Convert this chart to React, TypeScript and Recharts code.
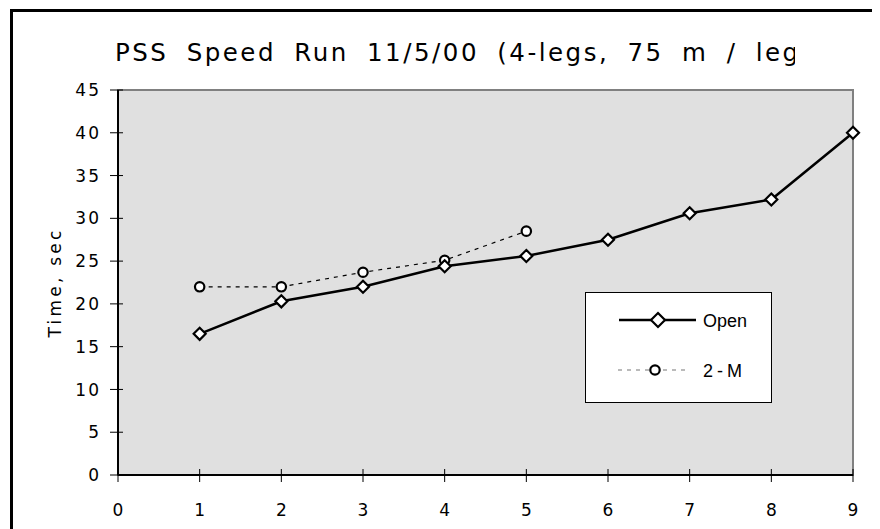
import React from 'react';
import {
  LineChart,
  Line,
  XAxis,
  YAxis,
  ReferenceArea,
  Legend,
} from 'recharts';

const xValues = [1, 2, 3, 4, 5, 6, 7, 8, 9];
const openTimes = [16.5, 20.3, 22.0, 24.4, 25.6, 27.5, 30.6, 32.2, 40.0];
const twoMTimes: (number | null)[] = [22.0, 22.0, 23.7, 25.1, 28.5, null, null, null, null];
const xTicks = [0, 1, 2, 3, 4, 5, 6, 7, 8, 9];
const yTicks = [0, 5, 10, 15, 20, 25, 30, 35, 40, 45];
const titleText = 'PSS Speed Run 11/5/00 (4-legs, 75 m / leg';
const yLabel = 'Time, sec';
const seriesNames = ['Open', '2-M'];

const data = xValues.map((x, i) => ({ x, open: openTimes[i], twoM: twoMTimes[i] }));

const FONT = '"DejaVu Sans", Verdana, sans-serif';
const LEGEND_FONT = '"Liberation Sans", Arial, sans-serif';

const Y_TICK_SIZE = 8;
const Y_TICK_MARGIN = 9;
const X_TICK_SIZE = 7;
const X_TICK_MARGIN = 22;

const YTick = (props: any) => {
  const { x, y, payload } = props;
  const axisX = x + Y_TICK_SIZE + Y_TICK_MARGIN;
  return (
    <g>
      <line x1={axisX - Y_TICK_SIZE} x2={axisX + 5} y1={y} y2={y} stroke="#000" strokeWidth={1} />
      <text
        x={x}
        y={y}
        dy="0.36em"
        textAnchor="end"
        fontFamily={FONT}
        fontSize={17}
        letterSpacing={2}
        fill="#000"
      >
        {payload.value}
      </text>
    </g>
  );
};

const XTick = (props: any) => {
  const { x, y, payload } = props;
  const axisY = y - X_TICK_SIZE - X_TICK_MARGIN;
  return (
    <g>
      <line x1={x} x2={x} y1={axisY - 6} y2={axisY + X_TICK_SIZE} stroke="#000" strokeWidth={1} />
      <text
        x={x}
        y={y}
        dy="0.71em"
        textAnchor="middle"
        fontFamily={FONT}
        fontSize={17}
        fill="#000"
      >
        {payload.value}
      </text>
    </g>
  );
};

const Diamond = (props: any) => {
  const { cx, cy, index } = props;
  if (cx == null || cy == null) return <g key={`d-${index}`} />;
  const s = 6;
  return (
    <path
      key={`d-${index}`}
      d={`M${cx},${cy - s} L${cx + s},${cy} L${cx},${cy + s} L${cx - s},${cy} Z`}
      fill="#fff"
      stroke="#000"
      strokeWidth={2.2}
    />
  );
};

const Ring = (props: any) => {
  const { cx, cy, index } = props;
  if (cx == null || cy == null) return <g key={`c-${index}`} />;
  return <circle key={`c-${index}`} cx={cx} cy={cy} r={4.7} fill="#fff" stroke="#000" strokeWidth={2.2} />;
};

const LegendBox = () => (
  <svg width={188} height={112} style={{ display: 'block' }}>
    <rect x={0.5} y={0.5} width={186} height={110} fill="#fff" stroke="#000" strokeWidth={1} />
    <line x1={34} y1={28} x2={111} y2={28} stroke="#000" strokeWidth={2.5} />
    <path d="M73,21 L80,28 L73,35 L66,28 Z" fill="#fff" stroke="#000" strokeWidth={2.2} />
    <text x={118} y={34.5} fontFamily={LEGEND_FONT} fontSize={18} fill="#000">{seriesNames[0]}</text>
    <line x1={33} y1={78} x2={104} y2={78} stroke="#777" strokeWidth={1.2} strokeDasharray="4 5" />
    <circle cx={70} cy={78} r={4.7} fill="#fff" stroke="#000" strokeWidth={2.2} />
    <text x={118} y={84.5} fontFamily={LEGEND_FONT} fontSize={18} fill="#000" letterSpacing={4}>{seriesNames[1]}</text>
  </svg>
);

export default function App() {
  return (
    <div style={{ position: 'relative', width: 872, height: 521, overflow: 'hidden', background: '#fff' }}>
      <div
        style={{
          position: 'absolute',
          left: 2,
          top: 1,
          width: 950,
          height: 650,
          border: '3px solid #000',
          boxSizing: 'border-box',
        }}
      />
      <svg
        width={872}
        height={80}
        style={{ position: 'absolute', left: 0, top: 0, pointerEvents: 'none' }}
      >
        <defs>
          <clipPath id="titleClip">
            <rect x={0} y={0} width={787} height={80} />
          </clipPath>
        </defs>
        <text
          x={107}
          y={53}
          fontFamily={FONT}
          fontSize={24.5}
          letterSpacing={2.5}
          wordSpacing={8}
          fill="#000"
          clipPath="url(#titleClip)"
        >
          {titleText}
        </text>
      </svg>
      <div style={{ position: 'absolute', left: 0, top: 0 }}>
        <LineChart
          width={872}
          height={521}
          data={data}
          margin={{ top: 82, right: 27, left: 0, bottom: 14 }}
        >
          <ReferenceArea
            x1={0}
            x2={9}
            y1={0}
            y2={45}
            fill="#e0e0e0"
            fillOpacity={1}
            stroke="#808080"
            strokeWidth={2}
            ifOverflow="visible"
          />
          <XAxis
            dataKey="x"
            type="number"
            domain={[0, 9]}
            ticks={xTicks}
            interval={0}
            height={40}
            axisLine={{ stroke: '#000', strokeWidth: 2 }}
            tickLine={false}
            tickSize={X_TICK_SIZE}
            tickMargin={X_TICK_MARGIN}
            tick={<XTick />}
          />
          <YAxis
            type="number"
            domain={[0, 45]}
            ticks={yTicks}
            interval={0}
            width={110}
            axisLine={{ stroke: '#000', strokeWidth: 2 }}
            tickLine={false}
            tickSize={Y_TICK_SIZE}
            tickMargin={Y_TICK_MARGIN}
            tick={<YTick />}
            label={{
              content: (p: any) => {
                const vb = p.viewBox || {};
                const cy = (vb.y ?? 82) + (vb.height ?? 385) / 2;
                return (
                  <text
                    x={47}
                    y={cy}
                    transform={`rotate(-90, 47, ${cy})`}
                    textAnchor="middle"
                    dominantBaseline="central"
                    fontFamily={FONT}
                    fontSize={17}
                    letterSpacing={3.2}
                    fill="#000"
                  >
                    {yLabel}
                  </text>
                );
              },
            }}
          />
          <Line
            dataKey="twoM"
            name={seriesNames[1]}
            stroke="#000"
            strokeWidth={1.2}
            strokeDasharray="4 5"
            dot={Ring}
            activeDot={false}
            connectNulls={false}
            isAnimationActive={false}
          />
          <Line
            dataKey="open"
            name={seriesNames[0]}
            stroke="#000"
            strokeWidth={2.5}
            dot={Diamond}
            activeDot={false}
            isAnimationActive={false}
          />
          <Legend
            layout="horizontal"
            verticalAlign="middle"
            align="center"
            content={() => <LegendBox />}
            wrapperStyle={{ position: 'absolute', left: 577, top: 284, width: 188, height: 112 }}
          />
        </LineChart>
      </div>
    </div>
  );
}
